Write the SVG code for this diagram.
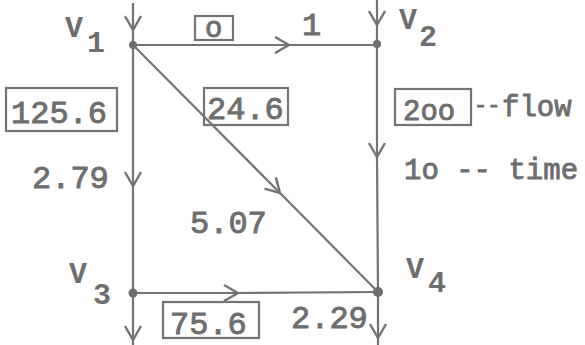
<svg xmlns="http://www.w3.org/2000/svg" width="585" height="345" viewBox="0 0 585 345">
<style>
.e{fill:none;stroke:#747474;stroke-width:2.2;marker-mid:url(#ah)}
.t{font-family:"Liberation Mono","DejaVu Sans Mono",monospace;fill:#6e6e6e;stroke:#6e6e6e;stroke-width:0.9;font-size:32px}
.s{font-size:29px}
.v{font-family:"Liberation Mono","DejaVu Sans Mono",monospace;font-weight:bold;fill:#6e6e6e;font-size:30px}
.b{fill:none;stroke:#747474;stroke-width:2.2}
.n{fill:#6e6e6e}
</style>
<defs>
<marker id="ah" viewBox="-16 -9 18 18" refX="0" refY="0" markerWidth="18" markerHeight="18" markerUnits="userSpaceOnUse" orient="auto">
<path d="M-14,-8 L0,0 L-14,8" fill="none" stroke="#747474" stroke-width="2.4"/>
</marker>
</defs>
<g id="connectors">
<path class="e" d="M133,3 L133,30 L133,45"/>
<path class="e" d="M377,0 L377,25 L377,45"/>
<path class="e" d="M133,45 L289,45 L377,45"/>
<path class="e" d="M133,45 L133,186 L133,293"/>
<path class="e" d="M377,45 L377,157 L378,292"/>
<path class="e" d="M133,45 L280,193 L378,292"/>
<path class="e" d="M133,293 L238,293 L378,292"/>
<path class="e" d="M133,293 L133,340 L133,345"/>
<path class="e" d="M378,292 L378,338 L378,345"/>
</g>
<g id="v1"><circle class="n" cx="133" cy="45" r="4"/><text class="v" x="65" y="37">V</text><text class="v" x="87" y="52">1</text></g>
<g id="v2"><circle class="n" cx="377" cy="44" r="4"/><text class="v" x="399" y="29">V</text><text class="v" x="419" y="46">2</text></g>
<g id="v3"><circle class="n" cx="133" cy="293" r="4.5"/><text class="v" x="69" y="283">V</text><text class="v" x="93" y="304">3</text></g>
<g id="v4"><circle class="n" cx="378" cy="292" r="5"/><text class="v" x="406" y="278">V</text><text class="v" x="428" y="292">4</text></g>
<g id="labels">
<rect class="b" x="195" y="16" width="38" height="24"/><text class="t s" x="205" y="37">o</text>
<text class="t" x="302" y="35">1</text>
<rect class="b" x="6" y="88" width="111" height="43"/><text class="t" x="11" y="123">125.6</text>
<rect class="b" x="204" y="88" width="84" height="37"/><text class="t" x="207" y="119">24.6</text>
<rect class="b" x="395" y="89" width="76" height="36"/><text class="t s" x="403" y="120">2oo</text>
<text class="t" style="font-size:22px" x="474" y="112">--</text><text class="t s" x="502" y="116">flow</text>
<text class="t s" x="404" y="179">1o -- time</text>
<text class="t" x="32" y="188">2.79</text>
<text class="t" x="190" y="233">5.07</text>
<rect class="b" x="163" y="302" width="96" height="36"/><text class="t" x="170" y="334">75.6</text>
<text class="t" x="291" y="328">2.29</text>
</g>
</svg>
